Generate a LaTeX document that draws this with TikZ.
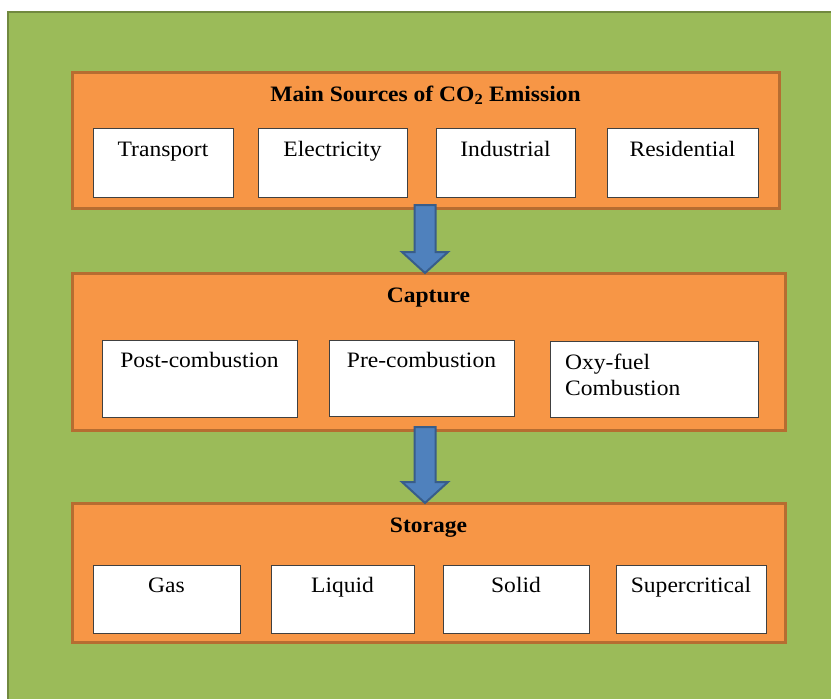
\documentclass[tikz,border=0pt]{standalone}
\usepackage{fontspec}
\setmainfont{Liberation Serif}[FakeStretch=1.07]
\usetikzlibrary{calc}

\definecolor{leaf}{HTML}{9BBB59}
\definecolor{leafdark}{HTML}{71893F}
\definecolor{tang}{HTML}{F79646}
\definecolor{tangdark}{HTML}{B66D31}
\definecolor{steel}{HTML}{4F81BD}
\definecolor{steeldark}{HTML}{385D8A}

\begin{document}
\begin{tikzpicture}[x=1pt,y=-1pt,
  panel/.style={draw=tangdark, line width=3pt, fill=tang, anchor=north west,
    inner sep=0pt, outer sep=0pt},
  itembox/.style={draw=black!75, line width=1pt, fill=white, anchor=north west,
    inner sep=0pt, outer sep=0pt},
  itemtext/.style={anchor=base, inner sep=0pt, font=\fontsize{22}{26}\selectfont},
  headtext/.style={anchor=base, inner sep=0pt, font=\fontsize{22}{26}\selectfont\bfseries},
  blockarrow/.style={fill=steel, draw=steeldark, line width=2pt, line join=miter}
]
\useasboundingbox (0,0) rectangle (831,699);

% green backdrop
\fill[white] (0,0) rectangle (831,699);
\draw[fill=leaf, draw=leafdark, line width=2pt] (8,12) rectangle (845,715);

% panels
\node[panel, minimum width=707pt, minimum height=136pt] (p1) at (72,72) {};
\node[panel, minimum width=713pt, minimum height=157pt] (p2) at (72,273) {};
\node[panel, minimum width=713pt, minimum height=139pt] (p3) at (72,503) {};

% panel headings
\node[headtext] (h1) at ($(p1.north)+(0,29)$) {Main Sources of CO\textsubscript{2} Emission};
\node[headtext] (h2) at ($(p2.north)+(0,29)$) {Capture};
\node[headtext] (h3) at ($(p3.north)+(0,29)$) {Storage};

% sources
\node[itembox, minimum width=140pt, minimum height=69pt] (a1) at (93,128) {};
\node[itembox, minimum width=149pt, minimum height=69pt] (a2) at (258,128) {};
\node[itembox, minimum width=139pt, minimum height=69pt] (a3) at (436,128) {};
\node[itembox, minimum width=151pt, minimum height=69pt] (a4) at (607,128) {};
\node[itemtext] (a1t) at ($(a1.north)+(0,28)$) {Transport};
\node[itemtext] (a2t) at ($(a2.north)+(0,28)$) {Electricity};
\node[itemtext] (a3t) at ($(a3.north)+(0,28)$) {Industrial};
\node[itemtext] (a4t) at ($(a4.north)+(0,28)$) {Residential};

% capture routes
\node[itembox, minimum width=195pt, minimum height=77pt] (b1) at (102,340) {};
\node[itembox, minimum width=185pt, minimum height=76pt] (b2) at (329,340) {};
\node[itembox, minimum width=208pt, minimum height=76pt] (b3) at (550,341) {};
\node[itemtext] (b1t) at ($(b1.north)+(0,27)$) {Post-combustion};
\node[itemtext] (b2t) at ($(b2.north)+(0,27)$) {Pre-combustion};
\node[itemtext, anchor=base west] (b3t) at ($(b3.north west)+(15,28)$) {Oxy-fuel};
\node[itemtext, anchor=base west] (b3u) at ($(b3t.base west)+(0,26)$) {Combustion};

% storage states
\node[itembox, minimum width=147pt, minimum height=68pt] (c1) at (93,565) {};
\node[itembox, minimum width=143pt, minimum height=68pt] (c2) at (271,565) {};
\node[itembox, minimum width=146pt, minimum height=68pt] (c3) at (443,565) {};
\node[itembox, minimum width=150pt, minimum height=68pt] (c4) at (616,565) {};
\node[itemtext] (c1t) at ($(c1.north)+(0,27)$) {Gas};
\node[itemtext] (c2t) at ($(c2.north)+(0,27)$) {Liquid};
\node[itemtext] (c3t) at ($(c3.north)+(0,27)$) {Solid};
\node[itemtext] (c4t) at ($(c4.north)+(0,27)$) {Supercritical};

% block arrows between panels
\coordinate (axis) at (425,0);
\foreach \src/\dst in {p1/p2, p2/p3}{
  \draw[blockarrow]
    ($(\src.south -| axis)+(-10.5,-3)$) --
    ($(\dst.north -| axis)+(-10.5,-21)$) --
    ($(\dst.north -| axis)+(-23,-21)$) --
    (\dst.north -| axis) --
    ($(\dst.north -| axis)+(23,-21)$) --
    ($(\dst.north -| axis)+(10.5,-21)$) --
    ($(\src.south -| axis)+(10.5,-3)$) -- cycle;
}
\end{tikzpicture}
\end{document}
